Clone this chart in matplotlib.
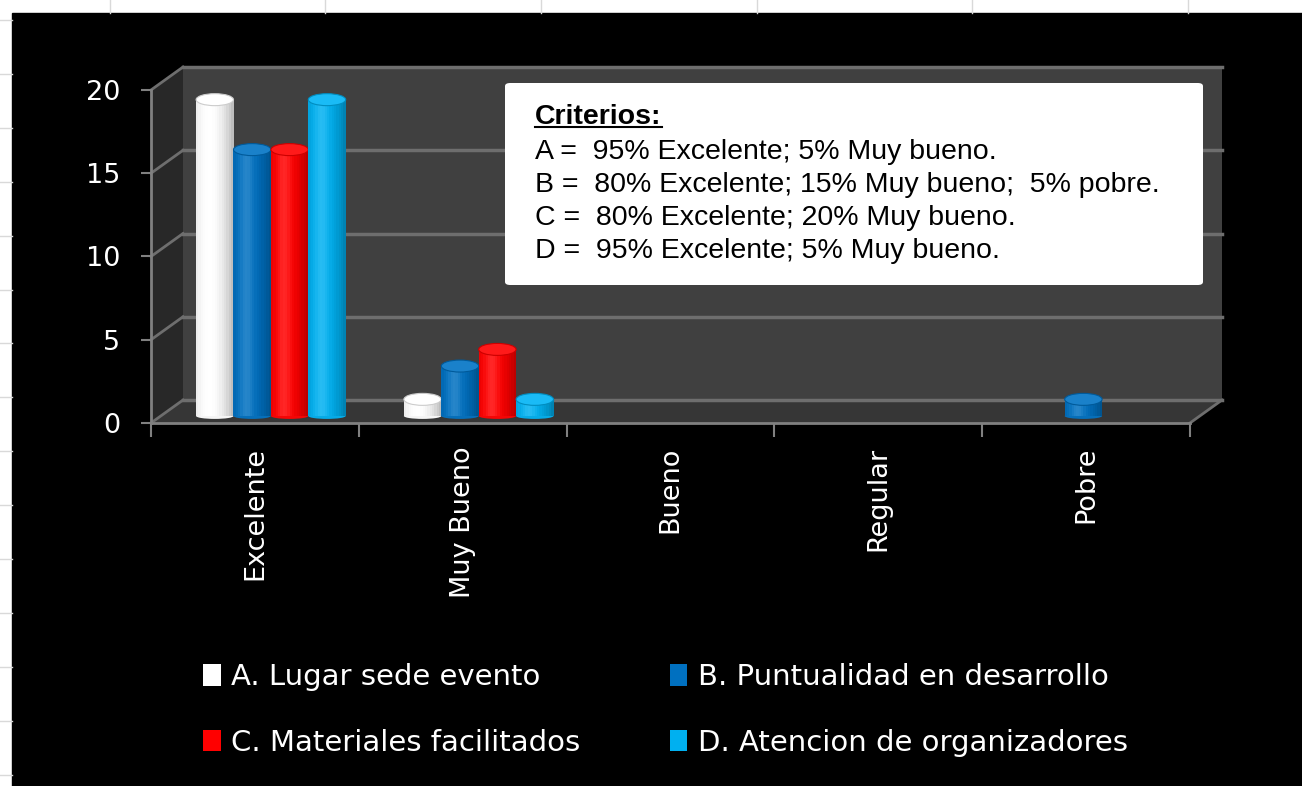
import numpy as np
import matplotlib
matplotlib.use("Agg")
import matplotlib.pyplot as plt
import matplotlib.colors as mcolors
from matplotlib.patches import Rectangle, Polygon, Ellipse, FancyBboxPatch, Patch
from matplotlib.lines import Line2D

# data
categories = ["Excelente", "Muy Bueno", "Bueno", "Regular", "Pobre"]
series_names = ["A. Lugar sede evento", "B. Puntualidad en desarrollo",
                "C. Materiales facilitados", "D. Atencion de organizadores"]
lugar = [19, 1, 0, 0, 0]
puntualidad = [16, 3, 0, 0, 1]
materiales = [16, 4, 0, 0, 0]
atencion = [19, 1, 0, 0, 0]
series_colors = ["#ffffff", "#0070c0", "#ff0000", "#00b0f0"]
y_ticks = [0, 5, 10, 15, 20]

criterios_title = "Criterios:"
criterios_lines = [
    "A =  95% Excelente; 5% Muy bueno.",
    "B =  80% Excelente; 15% Muy bueno;  5% pobre.",
    "C =  80% Excelente; 20% Muy bueno.",
    "D =  95% Excelente; 5% Muy bueno.",
]

W, H = 1302, 786
DEPTH_X, DEPTH_Y = 0.154, 1.38   # back wall offset (data units)
BAR_DX, BAR_DY = 0.077, 0.42     # offset of the bar row
BAR_W = 0.18
N_STRIPS = 16


def fx(px):
    return px / W


def fy(py):
    return 1 - py / H


def shade(color, t):
    rgb = np.array(mcolors.to_rgb(color))
    k = (t - 0.35) / 0.65
    out = rgb * (1 - 0.28 * k ** 2)
    hi = 0.15 * np.exp(-((t - 0.35) / 0.18) ** 2)
    out = out + (1 - out) * hi
    return np.clip(out, 0, 1)


fig = plt.figure(figsize=(W / 100, H / 100), dpi=100)
fig.patch.set_facecolor("white")

# spreadsheet cells behind the chart
for x in [110, 325, 541, 757, 972, 1188]:
    fig.add_artist(Line2D([fx(x), fx(x)], [fy(0), fy(13)], color="#d9d9d9", lw=1))
for y in np.arange(20, H, 53.9):
    fig.add_artist(Line2D([0, fx(12)], [fy(y), fy(y)], color="#d9d9d9", lw=1))
fig.add_artist(Rectangle((fx(12), 0), 1, fy(13), transform=fig.transFigure,
                         color="black", zorder=-1))

ax = fig.add_axes([fx(151), fy(423), fx(1190) - fx(151), fy(90) - fy(423)])
ax.set_xlim(-0.5, 4.5)
ax.set_ylim(0, 20)
ax.patch.set_visible(False)
for side in ["top", "right"]:
    ax.spines[side].set_visible(False)
for side in ["left", "bottom"]:
    ax.spines[side].set_color("#808080")
    ax.spines[side].set_linewidth(2)

# walls and floor
x0, x1 = -0.5, 4.5
ax.add_patch(Rectangle((x0 + DEPTH_X, DEPTH_Y), x1 - x0, 20, fc="#404040",
                       ec="none", clip_on=False, zorder=0.5))
ax.add_patch(Polygon([(x0, 0), (x0, 20), (x0 + DEPTH_X, 20 + DEPTH_Y),
                      (x0 + DEPTH_X, DEPTH_Y)], fc="#282828", ec="none",
                     clip_on=False, zorder=0.5))
ax.add_patch(Polygon([(x0, 0), (x1, 0), (x1 + DEPTH_X, DEPTH_Y),
                      (x0 + DEPTH_X, DEPTH_Y)], fc="#363636", ec="none",
                     clip_on=False, zorder=0.6))
for v in y_ticks:
    ax.plot([x0 + DEPTH_X, x1 + DEPTH_X], [v + DEPTH_Y] * 2, color="#6e6e6e",
            lw=2.5, clip_on=False, zorder=0.7)
    ax.plot([x0, x0 + DEPTH_X], [v, v + DEPTH_Y], color="#6e6e6e",
            lw=2, clip_on=False, zorder=0.7)
ax.plot([x1, x1 + DEPTH_X], [0, DEPTH_Y], color="#6e6e6e", lw=2,
        clip_on=False, zorder=0.7)

# axis ticks and labels
ax.set_yticks(y_ticks)
ax.tick_params(axis="y", length=7.2, width=1.5, color="#808080",
               labelcolor="white", labelsize=19.5, pad=15)
ax.set_xticks(np.arange(-0.5, 5, 1))
ax.set_xticklabels([])
ax.tick_params(axis="x", which="major", length=10, width=1.5, color="#808080")
ax.set_xticks(range(len(categories)), categories, minor=True)
ax.tick_params(axis="x", which="minor", length=0, pad=17, labelsize=19.5,
               labelcolor="white", labelrotation=90)

# cylinders
all_series = [lugar, puntualidad, materiales, atencion]
for j, (vals, col) in enumerate(zip(all_series, series_colors)):
    vals = np.array(vals, dtype=float)
    cx = np.arange(len(categories)) + BAR_DX + (j - 1.5) * BAR_W
    keep = vals > 0
    z = 2 + j * 0.1
    for xc, v in zip(cx[keep], vals[keep]):
        ax.add_patch(Ellipse((xc, BAR_DY), BAR_W, 0.35, fc=shade(col, 0.6),
                             ec="none", zorder=z))
    for k in range(N_STRIPS):
        t = (k + 0.5) / N_STRIPS
        ax.bar(cx[keep] - BAR_W / 2 + t * BAR_W, vals[keep], BAR_W / N_STRIPS * 1.05,
               bottom=BAR_DY, color=shade(col, t), lw=0, zorder=z + 0.01)
    top = np.clip(np.array(mcolors.to_rgb(col)) * 0.92 + 0.1, 0, 1)
    for xc, v in zip(cx[keep], vals[keep]):
        ax.add_patch(Ellipse((xc, BAR_DY + v), BAR_W, 0.72, fc=top,
                             ec=shade(col, 0.9), lw=0.8, zorder=z + 0.02))

# legend, two columns
handles = [Patch(fc=c, ec="none") for c in series_colors]
leg_kw = dict(loc="upper left", frameon=False, labelcolor="white", fontsize=21,
              handlelength=0.6, handleheight=0.75, handletextpad=0.35,
              labelspacing=1.3, borderaxespad=0, borderpad=0)
fig.legend([handles[0], handles[2]], [series_names[0], series_names[2]],
           bbox_to_anchor=(fx(203), fy(663)), **leg_kw)
fig.legend([handles[1], handles[3]], [series_names[1], series_names[3]],
           bbox_to_anchor=(fx(670), fy(663)), **leg_kw)

# criterios box
fig.add_artist(FancyBboxPatch((fx(505), fy(285)), fx(1203) - fx(505), fy(83) - fy(285),
                              boxstyle="round,pad=0,rounding_size=0.004",
                              transform=fig.transFigure, fc="white", ec="none",
                              zorder=5))
title = fig.text(fx(535), fy(124), criterios_title, fontsize=20.5, fontweight="bold",
                 family="Liberation Sans", color="black", va="baseline", zorder=6)
for i, line in enumerate(criterios_lines):
    fig.text(fx(535), fy(159 + 33 * i), line, fontsize=20.5, family="Liberation Sans",
             color="black", va="baseline", zorder=6)

fig.canvas.draw()
bb = title.get_window_extent()
fig.add_artist(Line2D([bb.x0 / W, bb.x1 / W], [fy(127), fy(127)], color="black",
                      lw=1.5, zorder=6))

fig.savefig("out.png", dpi=100, facecolor=fig.get_facecolor())
